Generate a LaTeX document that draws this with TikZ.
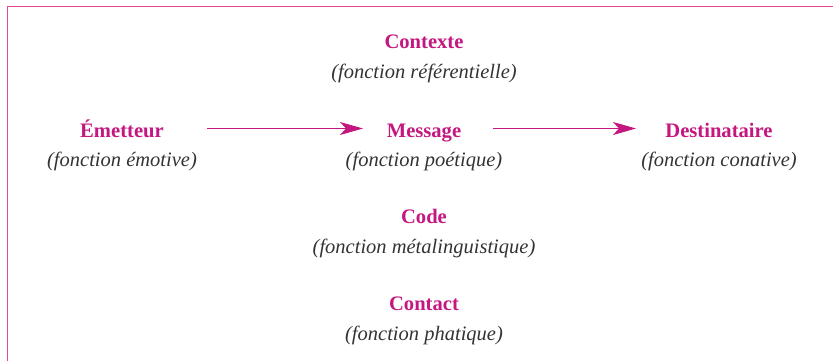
\documentclass[tikz,border=0pt]{standalone}
\usepackage{fontspec}
\setmainfont{Liberation Serif}
\usetikzlibrary{arrows.meta}
\definecolor{mag}{HTML}{C4177F}
\definecolor{framepink}{HTML}{E8479E}
\definecolor{txtgrey}{HTML}{333333}
\tikzset{
  title/.style={anchor=base, inner sep=0pt, text=mag, font=\fontsize{20.6}{24}\selectfont\bfseries},
  func/.style={anchor=base, inner sep=0pt, text=txtgrey, font=\fontsize{20.5}{24}\selectfont\itshape},
  arr/.style={draw=mag, line width=1pt, -{Stealth[length=23pt, width=13pt, inset=6pt]}},
  frame/.style={draw=framepink, line width=1.8pt}
}
\begin{document}
\begin{tikzpicture}[x=1pt,y=-1pt]
\useasboundingbox (0,0) rectangle (833,361);
\draw[frame] (833,6.5) -- (7.5,6.5) -- (7.5,361);
\node[title] (ctx) at (424,49) {Contexte};
\node[func] (ctxf) at (424,79) {(fonction référentielle)};
\node[title] (em) at (122,137) {Émetteur};
\node[func] (emf) at (122,166) {(fonction émotive)};
\node[title] (msg) at (424,137) {Message};
\node[func] (msgf) at (424,166) {(fonction poétique)};
\node[title] (dst) at (719,137) {Destinataire};
\node[func] (dstf) at (719,166) {(fonction conative)};
\node[title] (code) at (424,223) {Code};
\node[func] (codef) at (424,253) {(fonction métalinguistique)};
\node[title] (cnt) at (424,310) {Contact};
\node[func] (cntf) at (424,340) {(fonction phatique)};
\coordinate (a1s) at (207,128.5);
\coordinate (a1e) at (363,128.5);
\coordinate (a2s) at (493,128.5);
\coordinate (a2e) at (636,128.5);
\draw[arr] (a1s) -- (a1e);
\draw[arr] (a2s) -- (a2e);
\end{tikzpicture}
\end{document}
